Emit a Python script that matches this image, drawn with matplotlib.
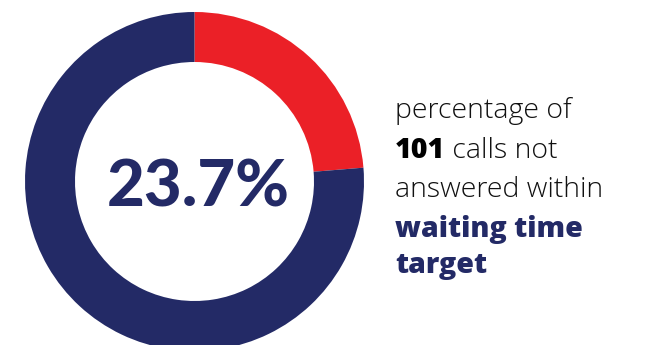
import matplotlib
matplotlib.use("Agg")
import matplotlib.pyplot as plt

# Share of calls not answered within the waiting time target
labels = ["Not answered within target", "Answered within target"]
shares = [23.7, 76.3]
headline = "23.7%"
total_calls = "101"

RED = "#eb2027"
NAVY = "#232a66"
HEAD_FONT = "Lato"
FONT = "Open Sans"

fig = plt.figure(figsize=(6.64, 3.45), dpi=100)
ax = fig.add_axes([0, 0, 1, 1])

ax.pie(shares, radius=169.5, center=(194.5, 163.5), startangle=90,
       counterclock=False, colors=[RED, NAVY],
       wedgeprops=dict(width=50, linewidth=0))
ax.set_xlim(0, 664)
ax.set_ylim(0, 345)
ax.set_aspect("equal")
ax.axis("off")

ax.text(198, 157, headline, ha="center", va="center", fontsize=47,
        fontweight="black", color=NAVY, family=HEAD_FONT)

# Caption on the right, one text object per run of one style
fs = 20.5
x0 = 395
line1 = 345 - 118
step = 39.5
ax.text(x0, line1, "percentage of", fontsize=fs, color="#111111",
        family=FONT, va="baseline", fontweight="light")
t = ax.text(x0, line1 - step, total_calls, fontsize=fs, color="#000000",
            family=FONT, fontweight="heavy", va="baseline")
fig.canvas.draw()
bb = t.get_window_extent()
ax.text(bb.x1, line1 - step, " calls not", fontsize=fs, color="#111111",
        family=FONT, va="baseline", fontweight="light")
ax.text(x0, line1 - 2 * step, "answered within", fontsize=fs,
        color="#111111", family=FONT, va="baseline", fontweight="light")
ax.text(x0, line1 - 3 * step, "waiting time", fontsize=fs, color=NAVY,
        family=FONT, fontweight="heavy", va="baseline")
ax.text(x0, line1 - 4 * step + 3, "target", fontsize=fs, color=NAVY,
        family=FONT, fontweight="heavy", va="baseline")

fig.savefig("out.png", dpi=100)
